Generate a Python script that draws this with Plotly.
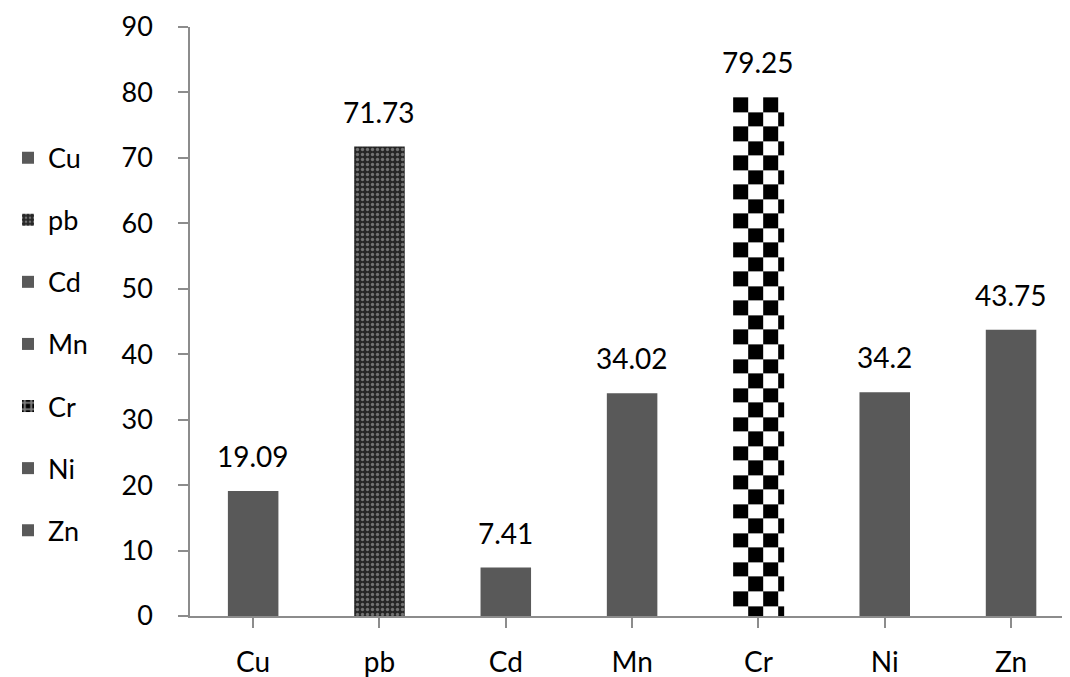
import numpy as np
import plotly.graph_objects as go

categories = ["Cu", "pb", "Cd", "Mn", "Cr", "Ni", "Zn"]
values = [19.09, 71.73, 7.41, 34.02, 79.25, 34.2, 43.75]
labels = ["19.09", "71.73", "7.41", "34.02", "79.25", "34.2", "43.75"]
y_ticks = [0, 10, 20, 30, 40, 50, 60, 70, 80, 90]

BAR = "#595959"
FONT = "Lato, Open Sans, sans-serif"
BAR_W = 0.4
CHECK_W = 0.119   # checker cell width (category units)
CHECK_H = 2.22    # checker cell height (value units)

fig = go.Figure()
ci = categories.index("Cr")
for i, (c, v) in enumerate(zip(categories, values)):
    if c == "pb":
        marker = dict(color="#262626", line=dict(width=0),
                      pattern=dict(shape=".", bgcolor="#262626", fgcolor="#bdbdbd",
                                   size=5, solidity=0.35, fillmode="overlay"))
    elif c == "Cr":
        marker = dict(color="black", line=dict(width=0),
                      pattern=dict(shape="+", bgcolor="black", fgcolor="white",
                                   size=8, solidity=0.5, fillmode="overlay"))
    else:
        marker = dict(color=BAR, line=dict(width=0))
    if c == "Cr":
        # legend-only entry; the bar itself is drawn as a checkerboard heatmap below
        fig.add_trace(go.Bar(x=[None], y=[None], name=c, width=BAR_W, marker=marker,
                             legendgroup=c, showlegend=True, hoverinfo="skip"))
    else:
        fig.add_trace(go.Bar(x=[i], y=[v], name=c, width=BAR_W, marker=marker,
                             legendgroup=c, showlegend=True, hoverinfo="skip"))

# checkerboard fill for the Cr bar, in data coordinates
cv = values[ci]
left, right = ci - BAR_W / 2, ci + BAR_W / 2
xe = [left]
while xe[-1] + CHECK_W < right:
    xe.append(xe[-1] + CHECK_W)
xe.append(right)
ye = [cv]
while ye[-1] - CHECK_H > 0:
    ye.append(ye[-1] - CHECK_H)
ye.append(0)
ye = ye[::-1]
ncol = len(xe) - 1
nrow = len(ye) - 1
z = [[((nrow - 1 - r) + col + 1) % 2 for col in range(ncol)] for r in range(nrow)]
fig.add_trace(go.Heatmap(x=xe, y=ye, z=z, colorscale=[[0, "white"], [1, "black"]],
                         showscale=False, hoverinfo="skip", zmin=0, zmax=1))

for i, (v, t) in enumerate(zip(values, labels)):
    fig.add_annotation(x=i, y=v, text=t, showarrow=False, yanchor="bottom",
                       yshift=16, font=dict(size=28, color="#000000", family=FONT))

fig.update_layout(
    width=1070, height=677,
    margin=dict(l=182, r=0, t=19, b=69),
    paper_bgcolor="white", plot_bgcolor="white",
    font=dict(family=FONT, size=27, color="#000000"),
    showlegend=True, barmode="overlay",
    legend=dict(xref="container", yref="container", x=0, y=0.8145,
                xanchor="left", yanchor="top", tracegroupgap=24, maxheight=650,
                font=dict(size=27, family=FONT, color="#000000"), itemwidth=30,
                bgcolor="rgba(0,0,0,0)"),
    xaxis=dict(range=[-0.5, 6.53], tickmode="array", tickvals=list(range(len(categories))),
               ticktext=categories, showgrid=False, showline=True, linecolor="#8c8c8c",
               linewidth=1.5, ticks="outside", tickson="boundaries", ticklen=10,
               tickcolor="#8c8c8c", tickwidth=1.5, zeroline=False,
               ticklabelstandoff=11, tickfont=dict(size=28)),
    yaxis=dict(range=[0, 90], tickvals=y_ticks, showgrid=False, showline=True,
               linecolor="#8c8c8c", linewidth=1.5, ticks="outside", ticklen=10,
               tickcolor="#8c8c8c", tickwidth=1.5, zeroline=False,
               ticklabelstandoff=20, tickfont=dict(size=27)),
)

fig.write_html("out.html")
